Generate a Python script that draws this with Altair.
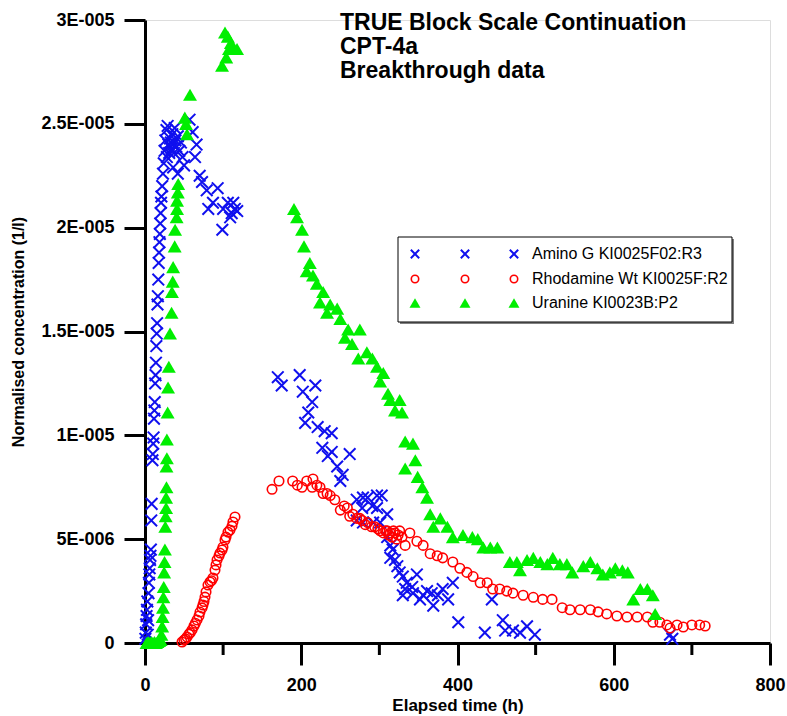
import altair as alt
import pandas as pd

# ---------------- data (concentration in units of 1E-006 1/l) ----------------
amino_t = [0.5, 1.0, 1.5, 2.0, 2.5, 3.0, 3.5, 4.0, 4.5, 5.0, 5.5, 6.0, 6.5, 7.0, 7.5, 8.0, 8.5,
           9.5, 10.0, 10.5, 11.0, 11.5, 12.0, 12.5, 13.0, 13.5, 14.0, 14.5, 15.0, 15.5, 16.0, 16.5,
           17.0, 17.5, 18.0, 18.5, 19.0, 19.5, 20.0, 20.5, 21.0, 22.0, 23.0, 24.0, 25.0, 26.0, 27.5, 29.0,
           28, 30, 31, 32, 33, 34, 35, 36, 37, 38, 39, 40, 42, 44, 46, 48, 50, 42, 36, 57, 61, 66, 64,
           70, 73, 79, 93, 87, 81, 100, 106, 113, 111, 118, 99, 109, 115,
           170, 175, 198, 202, 218, 214, 209, 205, 221, 230, 239, 227, 239, 234, 262, 246, 253, 250,
           271, 279, 285, 297, 303, 291, 278, 297, 310, 271, 279, 292, 301, 310, 314, 317, 314, 320,
           323, 326, 330, 335, 348, 342, 333, 330, 343, 352, 356, 361, 367, 369, 375, 381, 388, 394,
           401, 444, 435, 458, 461, 471, 480, 489, 499, 672, 675]
amino_c = [0.2, 0.5, 0.9, 1.3, 1.6, 2.0, 0.4, 1.1, 2.4, 2.9, 3.3, 3.6, 4.0, 4.2, 4.5, 5.9, 6.7,
           8.8, 9.1, 9.6, 9.9, 10.8, 11.2, 11.6, 12.5, 12.9, 13.5, 14.3, 14.9, 15.4, 16.3, 16.7,
           17.5, 18.3, 18.8, 19.3, 19.7, 20.2, 20.7, 21.2, 21.5, 22.0, 22.6, 23.1, 23.7, 24.2, 24.7, 24.9,
           23.4, 24.0, 23.6, 24.3, 24.1, 23.8, 24.5, 24.0, 23.6, 24.8, 24.2, 23.9, 24.4, 23.7, 24.1, 23.4, 23.0, 22.6, 22.9, 25.2, 24.6, 24.0, 23.4,
           22.5, 22.2, 21.8, 21.9, 21.2, 20.9, 20.9, 21.2, 21.2, 20.7, 20.8, 19.9, 20.5, 20.9,
           12.8, 12.4, 12.9, 12.1, 12.4, 11.6, 11.1, 10.6, 10.4, 10.2, 10.1, 9.4, 9.2, 9.0, 9.1, 8.5, 8.1, 7.8,
           6.9, 7.0, 7.0, 7.1, 7.1, 6.6, 6.5, 6.5, 6.2, 5.9, 5.8, 5.8, 5.8, 5.1, 4.7, 4.5, 4.1, 4.0,
           3.7, 3.4, 3.2, 2.9, 3.3, 2.7, 2.6, 2.3, 2.4, 2.1, 2.3, 2.5, 2.4, 1.8, 2.3, 2.6, 2.1, 2.9,
           1.0, 2.1, 0.5, 1.1, 0.6, 0.6, 0.5, 0.8, 0.4, 0.4, 0.2]

rhod_t = [47.4, 49.9, 52, 53.8, 56.3, 58, 60.2, 62.7, 64.5, 66.6, 69.1, 70.4, 73, 74.2, 75.5, 76.8,
          78.1, 80.6, 83.2, 85, 87, 89.6, 90.9, 92.2, 94.7, 96, 98.6, 99.8, 102.4, 103.7, 106.2,
          108.8, 111.4, 112.6, 115.2,
          162.6, 171.5, 189, 195, 201, 207, 215, 214, 220, 224, 228, 233, 237, 243, 250, 255, 259,
          262, 266, 271, 275, 278, 282, 285, 290, 294, 298, 301, 305, 308, 310, 312, 314, 316, 318,
          320, 322, 324, 326, 329, 333, 339, 348, 356, 365, 374, 381, 394, 403, 412, 420, 429, 438,
          445, 454, 463, 471, 484, 497, 509, 521, 534, 544, 557, 570, 580, 591, 604, 617, 630, 643,
          650, 659, 668, 672, 681, 689, 700, 710, 717]
rhod_c = [0.05, 0.14, 0.2, 0.29, 0.43, 0.5, 0.63, 0.82, 0.95, 1.11, 1.30, 1.49, 1.69, 1.83, 2.0, 2.21,
          2.46, 2.79, 2.94, 3.0, 3.13, 3.51, 3.76, 4.00, 4.19, 4.33, 4.48, 4.62, 4.96, 5.10, 5.34,
          5.44, 5.63, 5.83, 6.07,
          7.4, 7.8, 7.8, 7.6, 7.5, 7.8, 7.9, 7.5, 7.6, 7.5, 7.2, 7.2, 7.1, 6.9, 6.4, 6.6, 6.5,
          6.1, 6.2, 6.0, 6.0, 5.9, 5.7, 5.8, 5.6, 5.6, 5.5, 5.4, 5.3, 5.4, 5.4, 5.2, 5.3, 5.1, 5.4,
          5.3, 5.0, 5.2, 5.4, 5.1, 4.7, 5.3, 4.9, 4.7, 4.3, 4.2, 4.1, 3.9, 3.6, 3.4, 3.2, 2.9, 2.9,
          2.6, 2.6, 2.5, 2.4, 2.3, 2.2, 2.1, 2.1, 1.7, 1.6, 1.6, 1.6, 1.5, 1.4, 1.3, 1.25, 1.25, 1.25,
          1.0, 1.0, 0.87, 0.72, 0.87, 0.77, 0.87, 0.87, 0.82]

uran_t = [2, 4, 6, 8, 10, 12, 14, 16, 18, 20, 21,
          22, 22.5, 23, 23.5, 24, 24.5, 25, 25.5, 26, 26.5, 27, 27, 27.5, 27.5, 28, 28, 29, 29.5,
          30.5, 32, 34, 34.5, 35.5, 36, 38, 38.5, 40.5, 41, 41, 42, 42.5,
          51, 52.5, 53.8, 57.6, 98.6, 104, 107.5, 102.4, 106, 110, 112.6, 117.8,
          190.7, 194.6, 201, 203.5, 211, 207, 215, 220, 228, 224, 237, 233, 246, 250, 260, 275, 256,
          265, 284, 273, 291, 297, 305, 301, 311, 314, 326, 320, 329, 333, 343, 346, 333, 349, 355,
          361, 365, 378, 369, 387, 394, 407, 419, 426, 433, 442, 451, 467, 476, 489, 480, 497, 506,
          515, 522, 531, 540, 547, 561, 570, 579, 586, 595, 602, 611, 618, 634, 625, 643, 650, 653]
uran_c = [0.0, 0.05, 0.0, 0.05, 0.0, 0.05, 0.0, 0.05, 0.1, 0.15, 0.4,
          0.8, 1.25, 1.7, 2.2, 2.7, 3.4, 3.9, 4.5, 5.6, 6.1, 6.5, 7.0, 7.5, 8.5, 8.9, 9.8, 11.1, 12.3,
          13.3, 14.9, 15.9, 16.9, 17.4, 18.1, 19.1, 19.9, 20.5, 20.9, 21.3, 21.7, 22.1,
          25.3, 25.0, 24.5, 26.4, 27.8, 28.2, 28.6, 29.4, 29.2, 28.9, 28.6, 28.6,
          20.9, 20.5, 19.9, 19.1, 18.3, 17.9, 17.7, 17.3, 16.9, 16.4, 16.3, 15.9, 16.1, 15.6, 15.1, 15.1, 14.7,
          14.4, 14.0, 13.7, 13.7, 13.3, 13.0, 12.6, 12.0, 11.7, 11.7, 11.2, 11.1, 9.7, 9.6, 8.8, 8.4, 8.0, 7.5,
          7.0, 6.2, 6.0, 5.6, 5.6, 5.1, 5.2, 5.1, 5.0, 4.6, 4.6, 4.6, 3.9, 3.9, 4.0, 3.5, 4.1, 3.9,
          3.8, 4.1, 3.8, 3.8, 3.4, 3.7, 3.9, 3.6, 3.3, 3.4, 3.6, 3.5, 3.4, 2.6, 2.1, 2.6, 2.3, 1.4]

series_names = ["Amino G KI0025F02:R3", "Rhodamine Wt KI0025F:R2", "Uranine KI0023B:P2"]
title_lines = ["TRUE Block Scale Continuation", "CPT-4a", "Breakthrough data"]
x_ticks = [0, 200, 400, 600, 800]
x_minor_ticks = [100, 300, 500, 700]
y_ticks = [0, 5, 10, 15, 20, 25, 30]
y_labels = ["0", "5E-006", "1E-005", "1.5E-005", "2E-005", "2.5E-005", "3E-005"]

# ---------------- styling ----------------
FONT = "Liberation Sans"
BLUE = "#1010EE"
RED = "#FF0000"
GREEN = "#00EE00"
XSHAPE = "M-1,-1L1,1M1,-1L-1,1"

W, H = 625, 623

xs = alt.Scale(domain=[0, 800], nice=False, zero=False)
ys = alt.Scale(domain=[0, 30], nice=False, zero=False)

label_js = "[" + ",".join("'%s'" % s for s in y_labels) + "]"
x_axis = alt.Axis(values=x_ticks, title="Elapsed time (h)", grid=False, tickSize=22, tickWidth=3,
                  domainWidth=3, domainColor="black", tickColor="black", labelFont=FONT,
                  labelFontSize=18, labelFontWeight="bold", labelColor="black", labelPadding=11,
                  titleFont=FONT, titleFontSize=17, titleFontWeight="bold", titleColor="black",
                  titlePadding=3, labelFlush=False)
y_axis = alt.Axis(values=y_ticks, title="Normalised concentration (1/l)", grid=False, tickSize=21,
                  tickWidth=3, domainWidth=3, domainColor="black", tickColor="black",
                  labelExpr=label_js + "[round(datum.value/5)]", labelFont=FONT, labelFontSize=18,
                  labelFontWeight="bold", labelColor="black", labelPadding=10, titleFont=FONT,
                  titleFontSize=16, titleFontWeight="bold", titleColor="black", titlePadding=14,
                  labelFlush=False)

xenc = alt.X("t:Q", scale=xs, axis=x_axis)
yenc = alt.Y("c:Q", scale=ys, axis=y_axis)

df_a = pd.DataFrame({"t": amino_t, "c": amino_c})
df_r = pd.DataFrame({"t": rhod_t, "c": rhod_c})
df_u = pd.DataFrame({"t": uran_t, "c": uran_c})
df_minor = pd.DataFrame({"t": x_minor_ticks})

amino = alt.Chart(df_a).mark_point(shape=XSHAPE, filled=False, color=BLUE, strokeWidth=2,
                                   size=135, opacity=1).encode(x=xenc, y=yenc)
rhod = alt.Chart(df_r).mark_point(shape="circle", filled=False, color=RED, strokeWidth=1.6,
                                  size=90, opacity=1).encode(x=xenc, y=yenc)
uran = alt.Chart(df_u).mark_point(shape="triangle-up", filled=True, color=GREEN, size=195,
                                  opacity=1).encode(x=xenc, y=yenc)
minor = alt.Chart(df_minor).mark_rule(color="black", strokeWidth=3).encode(
    x=xenc, y=alt.value(H), y2=alt.value(H + 12))

# ---------------- legend box ----------------
one = pd.DataFrame({"k": [0]})
LX0, LX1, LY0, LY1 = 398 - 145, 732 - 145, 237 - 20, 322 - 20
shadow = alt.Chart(one).mark_rect(color="#808080").encode(
    x=alt.value(LX0 + 2), x2=alt.value(LX1 + 2), y=alt.value(LY0 + 2), y2=alt.value(LY1 + 2))
box = alt.Chart(one).mark_rect(fill="white", stroke="black", strokeWidth=1).encode(
    x=alt.value(LX0), x2=alt.value(LX1), y=alt.value(LY0), y2=alt.value(LY1))

legend_layers = [shadow, box]
sym_cols = [415 - 145, 465 - 145, 514 - 145]
rows_y = [254 - 20, 279 - 20, 303 - 20]
sym_marks = [
    dict(shape=XSHAPE, filled=False, color=BLUE, strokeWidth=2, size=70, opacity=1),
    dict(shape="circle", filled=False, color=RED, strokeWidth=1.6, size=55, opacity=1),
    dict(shape="triangle-up", filled=True, color=GREEN, size=120, opacity=1),
]
for i, name in enumerate(series_names):
    for cx in sym_cols:
        legend_layers.append(alt.Chart(one).mark_point(**sym_marks[i]).encode(
            x=alt.value(cx), y=alt.value(rows_y[i])))
    legend_layers.append(alt.Chart(pd.DataFrame({"label": [name]})).mark_text(
        align="left", baseline="middle", font=FONT, fontSize=16, color="black").encode(
        x=alt.value(532 - 145), y=alt.value(rows_y[i]), text="label:N"))

chart = alt.layer(minor, amino, rhod, uran, *legend_layers).properties(
    width=W, height=H,
    title=alt.TitleParams(text=title_lines, anchor="start", frame="group", font=FONT,
                          fontSize=23, fontWeight="bold", color="black", lineHeight=24,
                          baseline="top", offset=0, dx=195, dy=72),
    autosize=alt.AutoSizeParams(type="none"),
    padding={"left": 145, "top": 20, "right": 17, "bottom": 73},
).configure_view(stroke=None).configure(background="white")

chart.save("out.html", embed_options={"renderer": "svg", "actions": False})
